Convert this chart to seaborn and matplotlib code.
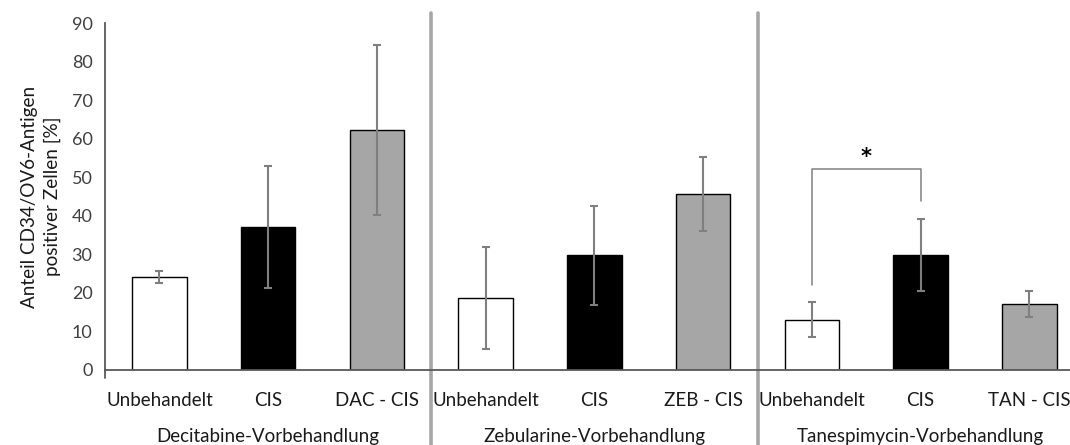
import matplotlib
matplotlib.use("Agg")
import matplotlib.pyplot as plt
import matplotlib.transforms as mtransforms
import seaborn as sns
import pandas as pd

# Pretreatment groups and the three conditions within each group
groups = ["Decitabine-Vorbehandlung", "Zebularine-Vorbehandlung", "Tanespimycin-Vorbehandlung"]
conditions = [
    ["Unbehandelt", "CIS", "DAC - CIS"],
    ["Unbehandelt", "CIS", "ZEB - CIS"],
    ["Unbehandelt", "CIS", "TAN - CIS"],
]
kinds = ["Kontrolle", "CIS", "Kombination"]

# Mean share of CD34/OV6 positive cells [%] and standard deviation
means = [24.1, 37.1, 62.3, 18.7, 29.8, 45.7, 13.1, 29.8, 17.2]
errors = [1.5, 15.9, 22.0, 13.2, 12.9, 9.6, 4.6, 9.4, 3.4]

# Significance marker between untreated and CIS in the Tanespimycin group
sig_pair = (6, 7)
sig_levels = (22.0, 52.3, 43.8)
sig_label = "*"

rows = []
for gi, g in enumerate(groups):
    for ci, c in enumerate(conditions[gi]):
        idx = gi * 3 + ci
        rows.append({"id": f"{g}|{c}", "label": c, "kind": kinds[ci],
                     "mean": means[idx], "err": errors[idx]})
df = pd.DataFrame(rows)

sns.set_style("white")
plt.rcParams["font.family"] = ["Lato", "DejaVu Sans"]

text_col = "#404040"
axis_col = "#595959"

fig = plt.figure(figsize=(10.7, 4.45), dpi=100)
W, H = 1070, 445
x0, x1 = 105, 1070
y0, y1 = 370, 23.3
ax = fig.add_axes([x0 / W, (H - y0) / H, (x1 - x0) / W, (y0 - y1) / H])

palette = {"Kontrolle": "#ffffff", "CIS": "#000000", "Kombination": "#a6a6a6"}
sns.barplot(data=df, x="id", y="mean", hue="kind", palette=palette, dodge=False,
            width=0.5, errorbar=None, legend=False, edgecolor="#000000",
            linewidth=1.0, ax=ax, zorder=2)

ax.errorbar(range(len(df)), df["mean"], yerr=df["err"], fmt="none",
            ecolor="#7f7f7f", elinewidth=1.5, capsize=3, capthick=1.5, zorder=3)

ax.set_xlim(-0.5, -0.5 + (x1 - x0) / 108.75)
ax.set_ylim(0, 90)
ax.set_yticks(range(0, 91, 10))
ax.set_xticks(range(len(df)))
ax.set_xticklabels(df["label"], fontsize=13.5, color="#1a1a1a")
ax.tick_params(axis="x", length=0, pad=16)
ax.tick_params(axis="y", direction="inout", length=10, width=1.2, color=axis_col,
               labelsize=13, labelcolor=text_col, pad=4)
ax.set_xlabel("")
ax.set_ylabel("Anteil CD34/OV6-Antigen\npositiver Zellen [%]", fontsize=13.6,
              color="#1a1a1a", labelpad=8, linespacing=1.4)

for side in ["top", "right"]:
    ax.spines[side].set_visible(False)
for side in ["left", "bottom"]:
    ax.spines[side].set_color(axis_col)
    ax.spines[side].set_linewidth(1.3)

# small continuation of the value axis below zero
ax.plot([-0.5, -0.5], [0, -2], color=axis_col, lw=1.3, clip_on=False, zorder=4)

# separators between the pretreatment groups
blend = mtransforms.blended_transform_factory(ax.transData, ax.transAxes)
for xs in [2.5, 5.5]:
    ax.plot([xs, xs], [-0.216, 1.03], color="#a6a6a6", lw=2.6,
            transform=blend, clip_on=False, zorder=1)

# group labels below the condition labels
for gi, g in enumerate(groups):
    ax.text(gi * 3 + 1, -0.193, g, transform=blend, ha="center", va="center",
            fontsize=13.5, color="#1a1a1a")

# significance bracket
xa, xb = sig_pair
ax.plot([xa, xa, xb, xb], [sig_levels[0], sig_levels[1], sig_levels[1], sig_levels[2]],
        color="#808080", lw=1.1, zorder=3)
ax.text((xa + xb) / 2, sig_levels[1] + 3.0, sig_label, ha="center", va="center",
        fontsize=15, fontweight="bold", color="#000000", family="DejaVu Sans")

fig.savefig("out.png", dpi=100)
